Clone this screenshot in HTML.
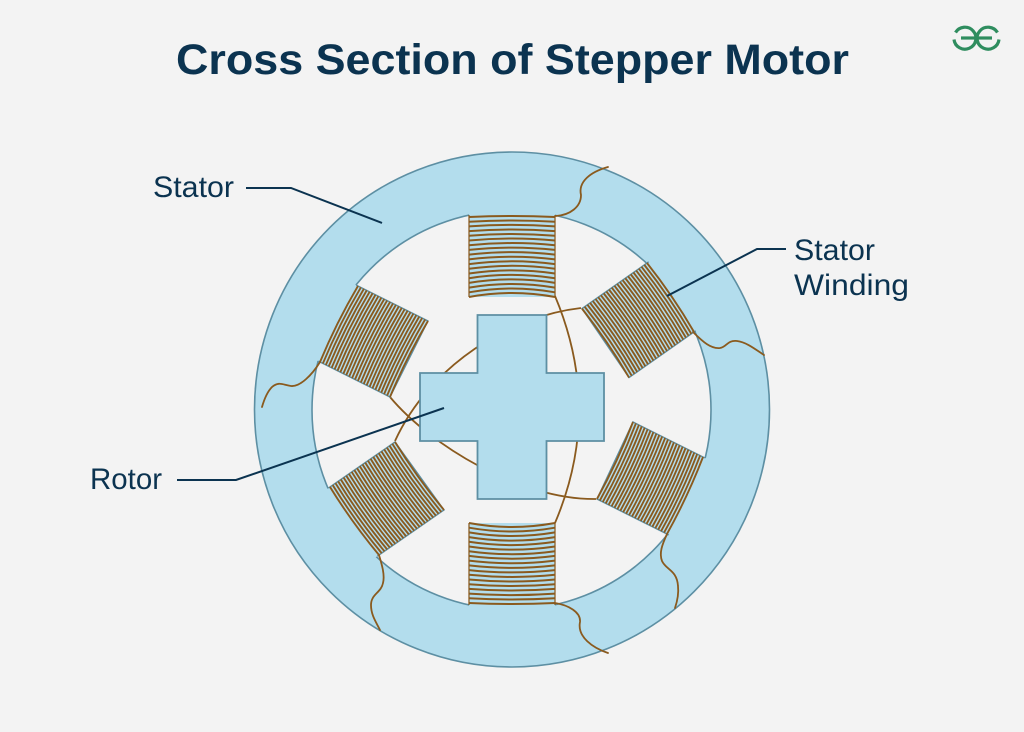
<!DOCTYPE html>
<html>
<head>
<meta charset="utf-8">
<style>
html,body{margin:0;padding:0;background:#f3f3f3;width:1024px;height:732px;overflow:hidden}
svg{display:block}
text{font-family:"Liberation Sans",sans-serif;fill:#0b3350}
</style>
</head>
<body>
<svg width="1024" height="732" viewBox="0 0 1024 732" xmlns="http://www.w3.org/2000/svg">
<defs>
<g id="dense">
<rect x="0" y="-12" width="84" height="92" fill="#b3dded"/>
<path d="M0 -2V80H84V-2" fill="none" stroke="#5d8fa3" stroke-width="1.4"/>
<path fill="none" stroke="#8a5a1e" stroke-width="1.9" d="M0 0q42-3 84 0M0 3.3q42-3 84 0M0 6.7q42-3 84 0M0 10q42-3 84 0M0 13.3q42-3 84 0M0 16.7q42-3 84 0M0 20q42-3 84 0M0 23.3q42-3 84 0M0 26.7q42-3 84 0M0 30q42-3 84 0M0 33.3q42-3 84 0M0 36.7q42-3 84 0M0 40q42-3 84 0M0 43.3q42-3 84 0M0 46.7q42-3 84 0M0 50q42-3 84 0M0 53.3q42-3 84 0M0 56.7q42-3 84 0M0 60q42-3 84 0M0 63.3q42-3 84 0M0 66.7q42-3 84 0M0 70q42-3 84 0M0 73.3q42-3 84 0M0 76.7q42-3 84 0M0 80q42-3 84 0"/>
</g>
<g id="wide">
<rect x="0" y="-12" width="84" height="92" fill="#b3dded"/>
<path d="M0 -2V80M84 -2V80" fill="none" stroke="#8a5a1e" stroke-width="1.2"/>
<path fill="none" stroke="#8a5a1e" stroke-width="2" d="M0 0q42-2 84 0M0 4.7q42-2.5 84 0M0 9.4q42-3 84 0M0 14.1q42-3.3 84 0M0 18.8q42-3.6 84 0M0 23.5q42-4 84 0M0 28.2q42-4.3 84 0M0 32.9q42-4.6 84 0M0 37.6q42-5 84 0M0 42.4q42-5.3 84 0M0 47.1q42-5.6 84 0M0 51.8q42-6 84 0M0 56.5q42-6.3 84 0M0 61.2q42-6.6 84 0M0 65.9q42-7 84 0M0 70.6q42-7.3 84 0M0 75.3q42-7.6 84 0M0 80q42-8 84 0"/>
</g>
</defs>

<rect width="1024" height="732" fill="#f3f3f3"/>

<text x="176" y="74" font-size="43" font-weight="700" textLength="673" lengthAdjust="spacingAndGlyphs">Cross Section of Stepper Motor</text>

<!-- logo -->
<g fill="none" stroke="#2f8d5f" stroke-width="3.2">
<path d="M955.5 32.5A11 11 0 1 1 954 39.5"/>
<path d="M961 38H976.5"/>
<path d="M997.5 32.5A11 11 0 1 0 999 39.5"/>
<path d="M992 38H976.5"/>
</g>

<!-- stator ring -->
<circle cx="512" cy="409.5" r="257.5" fill="#b3dded" stroke="#5d8fa3" stroke-width="1.6"/>
<circle cx="511.5" cy="410" r="199.5" fill="#f3f3f3" stroke="#5d8fa3" stroke-width="1.6"/>

<!-- inner wires (behind rotor) -->
<g fill="none" stroke="#8a5a1e" stroke-width="1.8">
<path d="M555 296Q603 410 555 523"/>
<path d="M581 308C510 316 430 365 395 441"/>
<path d="M390 397C430 445 520 500 596 499"/>
</g>

<!-- coils -->
<use href="#wide" transform="matrix(1.024 0 0 1 469 217)"/>
<use href="#wide" transform="matrix(-1.024 0 0 -1 555 603)"/>
<use href="#dense" transform="matrix(.56 .821 -.8125 .57 647 263)"/>
<use href="#dense" transform="matrix(-.429 .917 -.875 -.4375 703 457)"/>
<use href="#dense" transform="matrix(-.583 -.81 .8125 -.5625 379 555)"/>
<use href="#dense" transform="matrix(.452 -.905 .875 .4375 320 362)"/>

<!-- rotor -->
<path d="M477.5 315H546.5V373H604V441H546.5V499H477.5V441H420V373H477.5Z" fill="#b3dded" stroke="#5d8fa3" stroke-width="1.8"/>

<!-- outer wires -->
<g fill="none" stroke="#8a5a1e" stroke-width="1.8" stroke-linecap="round">
<path d="M556 216C570 215 581 207 581 195C578 182 590 172 608 167"/>
<path d="M693 332C703 342 711 349 720 348C727 347 727 340 737 341C746 342 755 349 764 355"/>
<path d="M667 534C662 545 659 553 662 561C666 570 677 570 678 586C679 595 677 602 675 608"/>
<path d="M555 603C568 605 581 612 580 622C577 637 593 648 608 653"/>
<path d="M379 555C382 565 385 575 383 583C381 593 371 594 371 605C371 615 376 622 380 630"/>
<path d="M320 362C312 375 300 387 291 386C283 385 279 381 272 387C267 392 264 400 262 407"/>
</g>

<!-- leaders -->
<g fill="none" stroke="#0b3350" stroke-width="2">
<path d="M246 188H291L382 223"/>
<path d="M786 249H757L667 296"/>
<path d="M177 480H236L444 408"/>
</g>

<!-- labels -->
<text x="153" y="197" font-size="30" textLength="81" lengthAdjust="spacingAndGlyphs">Stator</text>
<text x="794" y="260" font-size="30" textLength="81" lengthAdjust="spacingAndGlyphs">Stator</text>
<text x="794" y="295" font-size="30" textLength="115" lengthAdjust="spacingAndGlyphs">Winding</text>
<text x="90" y="489" font-size="30" textLength="72" lengthAdjust="spacingAndGlyphs">Rotor</text>
</svg>
</body>
</html>
